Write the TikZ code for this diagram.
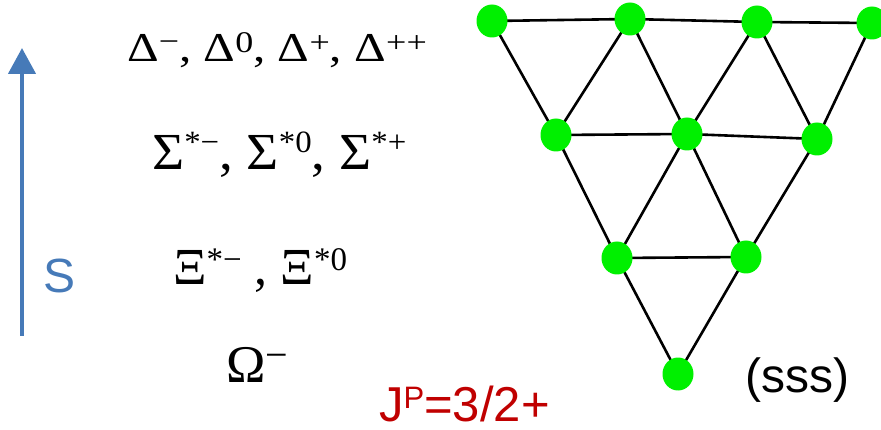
\documentclass[tikz,border=0pt]{standalone}
\usepackage{fontspec}
\setmainfont{Liberation Serif}
\newfontfamily\arialfont{Liberation Sans}
\usetikzlibrary{arrows.meta,shapes.geometric,backgrounds}
\definecolor{dot}{RGB}{0,240,0}
\definecolor{sblue}{RGB}{70,122,184}
\definecolor{jred}{RGB}{192,0,0}
\newcommand{\mysup}[3]{\raisebox{#1}{\fontsize{#2}{#2}\selectfont #3}}
\tikzset{
  dotnode/.style={ellipse,fill=dot,minimum width=31pt,minimum height=33pt,inner sep=0pt},
  edge/.style={line width=2.6pt,black},
  greek/.style={anchor=base west,inner sep=0pt},
}
\begin{document}
\begin{tikzpicture}[x=1pt,y=-1pt]
\useasboundingbox (0,0) rectangle (881,430);
% lattice nodes
\node[dotnode] (t1) at (492,21) {};
\node[dotnode] (t2) at (630,19) {};
\node[dotnode] (t3) at (757,22) {};
\node[dotnode] (t4) at (872,23) {};
\node[dotnode] (m1) at (556,135) {};
\node[dotnode] (m2) at (687,134) {};
\node[dotnode] (m3) at (817,139) {};
\node[dotnode] (r1) at (617,258) {};
\node[dotnode] (r2) at (746,257) {};
\node[dotnode] (b) at (678,374) {};
\begin{pgfonlayer}{background}
\draw[edge] (t1.center) -- (t2.center) -- (t3.center) -- (t4.center);
\draw[edge] (m1.center) -- (m2.center) -- (m3.center);
\draw[edge] (r1.center) -- (r2.center);
\draw[edge] (t1.center) -- (m1.center) -- (r1.center) -- (b.center) -- (r2.center) -- (m3.center) -- (t4.center);
\draw[edge] (m1.center) -- (t2.center) -- (m2.center) -- (t3.center) -- (m3.center);
\draw[edge] (r1.center) -- (m2.center) -- (r2.center);
\end{pgfonlayer}
% strangeness arrow
\coordinate (abot) at (22,336);
\coordinate (atop) at (22,48);
\draw[sblue,line width=4.5pt,-{Triangle[width=27pt,length=26pt]}] (abot) -- (atop);
\node[greek,text=sblue,font=\arialfont\fontsize{48}{48}\selectfont] (S) at (43,293) {S};
% particle rows
\node[greek,font=\fontsize{41}{41}\selectfont,xscale=1.2] (delta) at (127,62)
  {Δ\mysup{10pt}{30}{−}, Δ\mysup{9pt}{30}{0}, Δ\mysup{9pt}{30}{+}, Δ\mysup{9pt}{30}{++}};
\node[greek,font=\fontsize{52}{52}\selectfont,xscale=1.06] (sigma) at (152,170)
  {Σ\mysup{17pt}{31}{*−}, Σ\mysup{17pt}{31}{*0}, Σ\mysup{17pt}{31}{*+}};
\node[greek,font=\fontsize{52}{52}\selectfont] (xi) at (173,285)
  {Ξ\mysup{14pt}{33}{*−} , Ξ\mysup{14pt}{33}{*0}};
\node[greek,font=\fontsize{53}{53}\selectfont] (omega) at (226,382)
  {Ω\mysup{14pt}{40}{−}};
\node[greek,text=jred,font=\arialfont\fontsize{49}{49}\selectfont] (jp) at (379,421)
  {J\mysup{13pt}{31}{P}=3/2+};
\node[greek,font=\arialfont\fontsize{48}{48}\selectfont] (sss) at (745,392) {(sss)};
\end{tikzpicture}
\end{document}
